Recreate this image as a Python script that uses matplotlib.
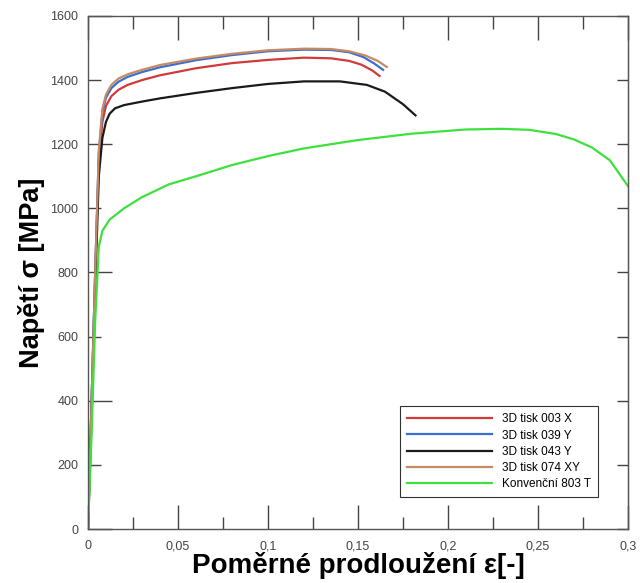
import matplotlib
matplotlib.use("Agg")
import matplotlib.pyplot as plt
from matplotlib.ticker import MultipleLocator, FixedLocator, FixedFormatter, NullFormatter

plt.rcParams['font.family'] = ['Liberation Sans', 'DejaVu Sans']

# ---- data ----
labels = ["3D tisk 003 X", "3D tisk 039 Y", "3D tisk 043 Y", "3D tisk 074 XY", "Konvenční 803 T"]
colors = ["#d03a3a", "#3a6fd0", "#1a1a1a", "#c48a64", "#3ee03e"]

strain_003 = [0, 0.002, 0.004, 0.006, 0.008, 0.010, 0.013, 0.017, 0.022, 0.03, 0.04, 0.06, 0.08, 0.10, 0.12, 0.135, 0.145, 0.152, 0.158, 0.162]
stress_003 = [0, 400, 800, 1150, 1270, 1320, 1350, 1370, 1385, 1400, 1415, 1437, 1453, 1463, 1470, 1468, 1460, 1448, 1430, 1413]

strain_039 = [0, 0.002, 0.004, 0.006, 0.008, 0.010, 0.013, 0.017, 0.022, 0.03, 0.04, 0.06, 0.08, 0.10, 0.12, 0.135, 0.145, 0.153, 0.159, 0.164]
stress_039 = [0, 400, 800, 1170, 1300, 1345, 1375, 1395, 1410, 1425, 1440, 1462, 1478, 1490, 1495, 1494, 1487, 1472, 1452, 1432]

strain_043 = [0, 0.002, 0.004, 0.006, 0.008, 0.010, 0.012, 0.015, 0.02, 0.03, 0.04, 0.06, 0.08, 0.10, 0.12, 0.14, 0.155, 0.165, 0.175, 0.182]
stress_043 = [0, 350, 750, 1100, 1220, 1270, 1295, 1312, 1322, 1333, 1343, 1360, 1375, 1388, 1396, 1396, 1385, 1364, 1325, 1290]

strain_074 = [0, 0.002, 0.004, 0.006, 0.008, 0.010, 0.013, 0.017, 0.022, 0.03, 0.04, 0.06, 0.08, 0.10, 0.12, 0.135, 0.145, 0.154, 0.161, 0.166]
stress_074 = [0, 400, 800, 1180, 1310, 1355, 1385, 1405, 1418, 1432, 1447, 1467, 1482, 1493, 1498, 1497, 1490, 1477, 1460, 1441]

strain_803 = [0, 0.002, 0.004, 0.006, 0.008, 0.012, 0.02, 0.03, 0.045, 0.06, 0.08, 0.10, 0.12, 0.15, 0.18, 0.21, 0.23, 0.245, 0.26, 0.27, 0.28, 0.29, 0.3]
stress_803 = [0, 300, 650, 880, 930, 965, 1000, 1035, 1075, 1100, 1135, 1163, 1187, 1213, 1233, 1246, 1248, 1245, 1232, 1215, 1190, 1150, 1070]

xticks = [0, 0.05, 0.1, 0.15, 0.2, 0.25, 0.3]
xticklabels = ["0", "0,05", "0,1", "0,15", "0,2", "0,25", "0,3"]
yticks_major = [0, 400, 800, 1200, 1600]
yticklabels_major = ["0", "400", "800", "1200", "1600"]
yticks_minor = [200, 600, 1000, 1400]
yticklabels_minor = ["200", "600", "1000", "1400"]

series = [(strain_003, stress_003), (strain_039, stress_039), (strain_043, stress_043),
          (strain_074, stress_074), (strain_803, stress_803)]

fig = plt.figure(figsize=(6.4, 5.83), dpi=100)
ax = fig.add_axes([0.1375, 0.0926, 0.8435, 0.88])

for (x, y), c, lab in zip(series, colors, labels):
    ax.plot(x, y, color=c, lw=1.6, label=lab)

ax.set_xlim(0, 0.3)
ax.set_ylim(0, 1600)

ax.xaxis.set_major_locator(FixedLocator(xticks))
ax.xaxis.set_major_formatter(FixedFormatter(xticklabels))
ax.xaxis.set_minor_locator(MultipleLocator(0.025))
ax.yaxis.set_major_locator(FixedLocator(yticks_major))
ax.yaxis.set_major_formatter(FixedFormatter(yticklabels_major))
ax.yaxis.set_minor_locator(FixedLocator(yticks_minor))
ax.yaxis.set_minor_formatter(FixedFormatter(yticklabels_minor))

tick_col = '#444444'
ax.tick_params(axis='both', which='major', direction='in', length=17, width=1.0,
               color=tick_col, labelsize=9, labelcolor=tick_col, top=True, right=False)
ax.tick_params(axis='both', which='minor', direction='in', length=9, width=1.0,
               color=tick_col, labelsize=9, labelcolor=tick_col, top=True, right=False)
ax.tick_params(axis='y', which='both', pad=7)
ax.tick_params(axis='x', which='major', pad=8)

# right side: short ticks every 200, no labels
sec = ax.secondary_yaxis('right')
sec.yaxis.set_major_locator(FixedLocator(yticks_major + yticks_minor))
sec.yaxis.set_major_formatter(NullFormatter())
sec.tick_params(direction='in', length=8, width=1.0, color=tick_col)
sec.spines['right'].set_color('#555555')

for s in ax.spines.values():
    s.set_color('#555555')
    s.set_linewidth(1.0)

ax.set_xlabel("Poměrné prodloužení ε[-]", fontsize=20, fontweight='bold', labelpad=0)
ax.set_ylabel("Napětí σ [MPa]", fontsize=19.5, fontweight='bold', labelpad=4)

leg = ax.legend(loc='lower right', bbox_to_anchor=(0.955, 0.05), fontsize=8.5,
                frameon=True, fancybox=False, edgecolor='#333333', framealpha=1,
                handlelength=7.2, labelspacing=0.36, borderpad=0.6, handletextpad=0.8)
leg.get_frame().set_linewidth(0.8)

fig.savefig("out.png", dpi=100)
